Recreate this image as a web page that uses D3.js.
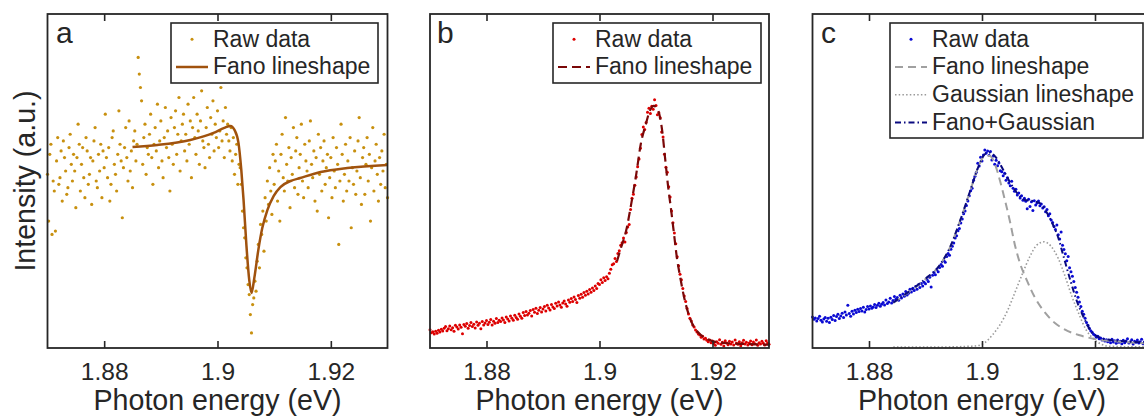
<!DOCTYPE html>
<html>
<head>
<meta charset="utf-8">
<script src="https://cdn.jsdelivr.net/npm/d3@7"></script>
<style>
body { margin: 0; background: #fff; }
text { font-family: "Liberation Sans", Arial, Helvetica, sans-serif; fill: #262626; }
</style>
</head>
<body>
<script>
// photon energy grids (eV)
var energyA = [
1.8700,1.8702,1.8704,1.8706,1.8708,1.8710,1.8712,1.8714,1.8716,1.8718,
1.8720,1.8722,1.8724,1.8726,1.8728,1.8730,1.8732,1.8734,1.8736,1.8738,
1.8740,1.8742,1.8744,1.8746,1.8748,1.8750,1.8752,1.8754,1.8756,1.8758,
1.8760,1.8762,1.8764,1.8766,1.8768,1.8770,1.8772,1.8774,1.8776,1.8778,
1.8780,1.8782,1.8784,1.8786,1.8788,1.8790,1.8792,1.8794,1.8796,1.8798,
1.8800,1.8802,1.8804,1.8806,1.8808,1.8810,1.8812,1.8814,1.8816,1.8818,
1.8820,1.8822,1.8824,1.8826,1.8828,1.8830,1.8832,1.8834,1.8836,1.8838,
1.8840,1.8842,1.8844,1.8846,1.8848,1.8850,1.8852,1.8854,1.8856,1.8858,
1.8860,1.8862,1.8864,1.8866,1.8868,1.8870,1.8872,1.8874,1.8876,1.8878,
1.8880,1.8882,1.8884,1.8886,1.8888,1.8890,1.8892,1.8894,1.8896,1.8898,
1.8900,1.8902,1.8904,1.8906,1.8908,1.8910,1.8912,1.8914,1.8916,1.8918,
1.8920,1.8922,1.8924,1.8926,1.8928,1.8930,1.8932,1.8934,1.8936,1.8938,
1.8940,1.8942,1.8944,1.8946,1.8948,1.8950,1.8952,1.8954,1.8956,1.8958,
1.8960,1.8962,1.8964,1.8966,1.8968,1.8970,1.8972,1.8974,1.8976,1.8978,
1.8980,1.8982,1.8984,1.8986,1.8988,1.8990,1.8992,1.8994,1.8996,1.8998,
1.9000,1.9002,1.9004,1.9006,1.9008,1.9010,1.9012,1.9014,1.9016,1.9018,
1.9020,1.9022,1.9024,1.9026,1.9028,1.9030,1.9032,1.9034,1.9036,1.9038,
1.9040,1.9042,1.9044,1.9046,1.9048,1.9050,1.9052,1.9054,1.9056,1.9058,
1.9060,1.9062,1.9064,1.9066,1.9068,1.9070,1.9072,1.9074,1.9076,1.9078,
1.9080,1.9082,1.9084,1.9086,1.9088,1.9090,1.9092,1.9094,1.9096,1.9098,
1.9100,1.9102,1.9104,1.9106,1.9108,1.9110,1.9112,1.9114,1.9116,1.9118,
1.9120,1.9122,1.9124,1.9126,1.9128,1.9130,1.9132,1.9134,1.9136,1.9138,
1.9140,1.9142,1.9144,1.9146,1.9148,1.9150,1.9152,1.9154,1.9156,1.9158,
1.9160,1.9162,1.9164,1.9166,1.9168,1.9170,1.9172,1.9174,1.9176,1.9178,
1.9180,1.9182,1.9184,1.9186,1.9188,1.9190,1.9192,1.9194,1.9196,1.9198,
1.9200,1.9202,1.9204,1.9206,1.9208,1.9210,1.9212,1.9214,1.9216,1.9218,
1.9220,1.9222,1.9224,1.9226,1.9228,1.9230,1.9232,1.9234,1.9236,1.9238,
1.9240,1.9242,1.9244,1.9246,1.9248,1.9250,1.9252,1.9254,1.9256,1.9258,
1.9260,1.9262,1.9264,1.9266,1.9268,1.9270,1.9272,1.9274,1.9276,1.9278,
1.9280,1.9282,1.9284,1.9286,1.9288,1.9290,1.9292,1.9294,1.9296,1.9298,
1.9300];

var energyBC = [
1.87000,1.87025,1.87050,1.87075,1.87100,1.87125,1.87150,1.87175,
1.87200,1.87225,1.87250,1.87275,1.87300,1.87325,1.87350,1.87375,
1.87400,1.87425,1.87450,1.87475,1.87500,1.87525,1.87550,1.87575,
1.87600,1.87625,1.87650,1.87675,1.87700,1.87725,1.87750,1.87775,
1.87800,1.87825,1.87850,1.87875,1.87900,1.87925,1.87950,1.87975,
1.88000,1.88025,1.88050,1.88075,1.88100,1.88125,1.88150,1.88175,
1.88200,1.88225,1.88250,1.88275,1.88300,1.88325,1.88350,1.88375,
1.88400,1.88425,1.88450,1.88475,1.88500,1.88525,1.88550,1.88575,
1.88600,1.88625,1.88650,1.88675,1.88700,1.88725,1.88750,1.88775,
1.88800,1.88825,1.88850,1.88875,1.88900,1.88925,1.88950,1.88975,
1.89000,1.89025,1.89050,1.89075,1.89100,1.89125,1.89150,1.89175,
1.89200,1.89225,1.89250,1.89275,1.89300,1.89325,1.89350,1.89375,
1.89400,1.89425,1.89450,1.89475,1.89500,1.89525,1.89550,1.89575,
1.89600,1.89625,1.89650,1.89675,1.89700,1.89725,1.89750,1.89775,
1.89800,1.89825,1.89850,1.89875,1.89900,1.89925,1.89950,1.89975,
1.90000,1.90025,1.90050,1.90075,1.90100,1.90125,1.90150,1.90175,
1.90200,1.90225,1.90250,1.90275,1.90300,1.90325,1.90350,1.90375,
1.90400,1.90425,1.90450,1.90475,1.90500,1.90525,1.90550,1.90575,
1.90600,1.90625,1.90650,1.90675,1.90700,1.90725,1.90750,1.90775,
1.90800,1.90825,1.90850,1.90875,1.90900,1.90925,1.90950,1.90975,
1.91000,1.91025,1.91050,1.91075,1.91100,1.91125,1.91150,1.91175,
1.91200,1.91225,1.91250,1.91275,1.91300,1.91325,1.91350,1.91375,
1.91400,1.91425,1.91450,1.91475,1.91500,1.91525,1.91550,1.91575,
1.91600,1.91625,1.91650,1.91675,1.91700,1.91725,1.91750,1.91775,
1.91800,1.91825,1.91850,1.91875,1.91900,1.91925,1.91950,1.91975,
1.92000,1.92025,1.92050,1.92075,1.92100,1.92125,1.92150,1.92175,
1.92200,1.92225,1.92250,1.92275,1.92300,1.92325,1.92350,1.92375,
1.92400,1.92425,1.92450,1.92475,1.92500,1.92525,1.92550,1.92575,
1.92600,1.92625,1.92650,1.92675,1.92700,1.92725,1.92750,1.92775,
1.92800,1.92825,1.92850,1.92875,1.92900,1.92925,1.92950,1.92975,
1.93000];

// raw intensities (a.u.)
var rawA = [
52,38,58,61,34,50,47,35,56,63,
49,51,59,44,62,57,53,46,48,60,
64,55,50,58,53,42,57,67,61,47,
55,60,51,45,63,59,49,52,57,43,
56,62,66,50,48,58,53,61,45,59,
54,70,57,51,60,44,49,63,65,55,
52,47,58,71,61,56,39,54,60,66,
57,50,68,53,59,48,62,65,56,61,
87,82,78,74,55,63,67,52,60,58,
64,70,57,49,61,66,59,73,54,62,
68,56,51,63,72,60,65,57,47,69,
61,55,66,71,58,64,75,53,62,67,
70,59,64,56,73,61,68,51,66,75,
63,58,70,65,55,68,77,62,60,54,
66,72,61,57,69,64,74,59,67,63,
71,60,65,78,62,68,57,72,64,67,
62,59,66,56,63,52,58,61,49,55,
54,49,41,36,33,27,24,19,16,10,
4.5,13,15,20,17,26,31,24,37,34,
41,29,45,38,50,43,54,47,40,58,
49,56,61,44,53,38,58,64,51,47,
69,55,50,60,42,57,52,66,48,59,
63,46,54,58,67,50,45,61,56,53,
48,62,68,55,51,59,44,57,41,64,
52,60,47,56,62,49,54,58,39,51,
57,45,63,53,48,60,55,31,50,67,
58,44,52,61,47,56,50,63,36,54,
49,59,46,53,62,69,51,43,57,60,
46,55,63,50,58,38,54,66,47,56,
61,52,44,57,49,59,53,64,48,55,45];

var rawB = [
5.5,4.6,4.9,4.2,5.0,4.4,5.3,4.8,5.6,5.1,
5.9,6.4,5.2,5.8,6.6,5.5,6.1,5.0,6.8,6.3,
5.7,6.9,6.2,4.3,7.0,6.5,7.3,5.9,6.7,7.6,
6.4,7.1,6.0,7.8,6.8,7.4,5.8,7.9,6.9,7.5,
8.2,7.0,7.7,8.5,6.9,8.0,7.4,8.8,7.6,8.3,
7.9,9.0,8.4,7.6,9.3,8.7,8.1,9.6,8.9,8.3,
9.8,9.1,8.6,10.2,9.5,8.9,10.6,9.7,10.9,9.9,
10.4,11.2,9.6,11.5,10.7,11.9,10.3,11.3,12.1,10.8,
11.7,12.4,11.1,12.8,12.0,11.4,13.0,12.3,11.8,13.4,
12.6,13.8,12.9,12.2,13.5,14.1,13.2,12.5,14.4,13.7,
14.8,13.9,15.3,14.5,13.6,15.7,14.9,16.1,15.2,16.6,
15.8,17.0,16.2,17.5,16.7,18.0,17.2,18.6,17.8,19.3,
19.0,20.4,19.6,21.0,20.2,21.3,20.7,22.4,23.6,24.9,
25.2,26.8,25.9,28.3,29.1,30.8,31.5,32.9,31.7,34.6,
36.2,37.0,41.5,44.8,46.0,48.7,51.2,54.3,56.6,59.8,
63.9,66.2,65.4,67.5,70.6,71.8,70.2,72.4,71.5,74.3,
72.6,69.8,70.4,68.9,64.7,63.2,58.0,54.1,52.6,48.3,
45.2,41.0,37.5,34.4,31.2,27.3,24.6,22.1,20.4,17.8,
15.6,13.9,11.8,10.2,8.9,8.1,6.9,6.3,5.4,4.8,
4.2,3.9,3.2,3.5,2.7,2.9,2.3,1.9,2.4,1.6,
2.1,1.3,0.8,1.9,1.4,2.5,1.1,1.7,0.6,2.2,
1.5,1.0,2.0,1.2,1.8,0.9,2.4,1.4,1.1,1.9,
0.7,1.6,2.3,1.2,1.7,0.9,1.5,2.1,1.0,1.8,
1.3,2.4,0.8,1.6,1.2,2.0,1.4,0.9,2.2,1.5,1.1];

var rawC = [
9.3,8.6,9.0,8.1,8.8,9.5,8.3,7.8,8.7,9.1,
8.0,8.9,7.6,9.2,8.5,9.7,8.2,9.4,10.1,8.8,
9.6,10.4,9.1,10.8,9.9,12.8,10.3,9.5,11.0,10.2,
11.3,10.6,11.6,10.9,11.8,11.1,12.2,10.8,11.5,12.4,
11.7,12.6,11.9,12.3,13.0,12.1,12.8,13.4,12.5,13.1,
13.6,12.9,14.4,13.3,13.8,14.9,13.5,14.2,15.4,14.6,
15.1,14.3,15.8,15.0,16.2,15.5,16.9,15.9,16.4,17.6,
16.8,17.9,17.2,18.4,17.6,18.9,18.1,19.3,18.6,19.7,
19.2,20.6,19.9,21.2,18.3,21.8,22.6,21.9,23.4,22.8,
24.1,25.0,24.5,26.2,25.7,27.4,28.3,27.8,29.6,30.5,
31.4,32.9,33.6,35.1,35.8,37.4,38.6,40.2,41.0,42.7,
44.0,45.6,47.1,47.8,50.2,51.4,52.6,55.3,54.5,57.1,
56.0,57.8,59.3,58.4,59.0,57.6,58.8,56.3,57.5,55.0,
56.2,54.6,55.4,53.1,52.8,51.6,52.3,50.2,51.0,49.4,
48.6,49.9,47.8,46.9,47.5,45.8,46.4,44.9,45.6,44.2,
44.8,43.9,41.7,44.5,42.4,43.8,41.2,44.1,42.8,43.4,
44.0,42.6,43.1,41.9,42.3,40.8,41.5,39.6,40.2,38.3,
37.6,36.4,35.5,36.8,33.9,32.6,34.7,30.8,29.5,28.2,
26.1,27.4,24.0,22.8,21.5,19.9,18.1,16.7,15.2,13.8,
12.4,11.0,10.1,8.9,7.6,6.8,5.9,5.2,4.7,4.1,
3.8,3.2,3.5,2.8,3.0,2.4,2.7,2.1,2.5,1.9,
2.3,1.6,2.6,1.8,2.2,1.4,2.4,1.7,2.0,1.3,
2.3,1.6,2.1,2.8,1.5,1.9,2.5,1.2,2.0,1.7,
2.4,1.5,1.9,2.6,1.3,1.8,2.2,1.6,2.0,1.4,1.8];

// fitted lineshapes
var fanoAx = [1.8850,1.8894,1.8952,1.8993,1.9012,1.9023,1.9030,1.9037,1.9042,1.9046,1.9051,1.9056,1.9060,1.9065,1.9072,1.9079,1.9088,1.9099,1.9111,1.9129,1.9146,1.9182,1.9229,1.9300];
var fanoAy = [60.2,60.8,62.3,64.4,65.9,66.5,65.3,61.4,53.3,44.3,30.8,20.4,16.5,21.0,29.3,35.9,41.3,45.5,48.2,50.0,50.9,52.7,53.9,54.8];

var fanoBx = [1.9031,1.9038,1.9047,1.9056,1.9065,1.9073,1.9082,1.9089,1.9096,1.9104,1.9111,1.9116,1.9121,1.9127,1.9132,1.9137,1.9142,1.9150,1.9157,1.9165,1.9174,1.9187,1.9201,1.9222,1.9258,1.9300];
var fanoBy = [26,30,35,43,52,61,67,71,72.5,71,65,57,49,41,34,27,22,15,10.5,7,4.8,3,2,1.5,1.2,1.0];

var fanoCx = [1.8843,1.8873,1.8899,1.8926,1.8943,1.8961,1.8979,1.8993,1.9005,1.9014,1.9023,1.9032,1.9041,1.9050,1.9058,1.9067,1.9080,1.9094,1.9112,1.9129,1.9147,1.9173,1.9200,1.9235,1.9300];
var fanoCy = [13.5,17,20.5,25,30,38,47,54,57.5,57.5,55,50,44,37.5,31,25.5,20,15,10.5,7.5,5.5,3.8,2.7,2.0,1.3];

var gaussCx = [1.8843,1.8926,1.8988,1.9005,1.9019,1.9032,1.9046,1.9058,1.9071,1.9085,1.9097,1.9110,1.9122,1.9135,1.9147,1.9159,1.9172,1.9184,1.9197,1.9209,1.9227,1.9300];
var gaussCy = [0.3,0.3,0.6,1.6,4,7,11.5,16.5,22,27.5,30.8,31.8,30.5,26.8,21.5,15.5,10,5.5,2.8,1.3,0.5,0.3];

var sumCx = [1.8843,1.8873,1.8899,1.8926,1.8943,1.8961,1.8979,1.8993,1.9005,1.9014,1.9025,1.9037,1.9050,1.9064,1.9076,1.9090,1.9103,1.9113,1.9124,1.9135,1.9145,1.9156,1.9168,1.9181,1.9193,1.9206,1.9227,1.9253,1.9300];
var sumCy = [13.6,17.2,20.6,25,30,38,47,54,58,58.5,57,53.5,49.5,46,44.3,44,43.3,41,37.5,33,27,20.5,14,8.8,5,3.3,2.4,2.0,1.6];

var tickValues = [1.88, 1.9, 1.92];
var xDomain = [1.87, 1.93];
var yDomain = [0, 100];
var xLabel = "Photon energy (eV)";
var yLabel = "Intensity (a.u.)";

var width = 1144, height = 416;
var plotTop = 14, plotBottom = 348;

var svg = d3.select("body").append("svg")
  .attr("width", width)
  .attr("height", height);

var line = function(x, y) {
  return d3.line().x(function(d) { return x(d[0]) }).y(function(d) { return y(d[1]) }).curve(d3.curveMonotoneX);
}

var panels = [
  {letter: "a", left: 47.5, right: 387.5, letterX: 56,
   energy: energyA, raw: rawA, dot: "#c8900f", r: 1.6,
   fits: [{x: fanoAx, y: fanoAy, color: "#a0520e", width: 2.5, dash: null}],
   legend: {x: 171, y: 23, w: 207, h: 60,
     items: [{label: "Raw data", type: "dot", color: "#c8900f"},
             {label: "Fano lineshape", type: "line", color: "#a0520e", width: 2.5, dash: null}]}},
  {letter: "b", left: 430, right: 769, letterX: 437,
   energy: energyBC, raw: rawB, dot: "#dd0000", r: 1.5,
   fits: [{x: fanoBx, y: fanoBy, color: "#7a0808", width: 2.2, dash: "9,5"}],
   legend: {x: 553, y: 23, w: 208, h: 60,
     items: [{label: "Raw data", type: "dot", color: "#dd0000"},
             {label: "Fano lineshape", type: "line", color: "#7a0808", width: 2.2, dash: "9,5"}]}},
  {letter: "c", left: 812.5, right: 1151.5, letterX: 821,
   energy: energyBC, raw: rawC, dot: "#0a0ad2", r: 1.5,
   fits: [{x: fanoCx, y: fanoCy, color: "#a0a0a0", width: 2, dash: "8,5"},
          {x: gaussCx, y: gaussCy, color: "#9a9a9a", width: 1.6, dash: "1.5,2.2"},
          {x: sumCx, y: sumCy, color: "#0a0a80", width: 2, dash: "6,3,1.5,3"}],
   legend: {x: 890, y: 23, w: 253, h: 115,
     items: [{label: "Raw data", type: "dot", color: "#0a0ad2"},
             {label: "Fano lineshape", type: "line", color: "#a0a0a0", width: 2, dash: "8,5"},
             {label: "Gaussian lineshape", type: "line", color: "#9a9a9a", width: 1.6, dash: "1.5,2.2"},
             {label: "Fano+Gaussian", type: "line", color: "#0a0a80", width: 2, dash: "6,3,1.5,3"}]}}
];

panels.forEach(function(p) {
  var x = d3.scaleLinear().domain(xDomain).range([p.left, p.right]);
  var y = d3.scaleLinear().domain(yDomain).range([plotBottom, plotTop]);
  var g = svg.append("g");

  g.append("g").selectAll("circle")
    .data(d3.zip(p.energy, p.raw))
    .join("circle")
    .attr("cx", function(d) { return x(d[0]) })
    .attr("cy", function(d) { return y(d[1]) })
    .attr("r", p.r)
    .attr("fill", p.dot);

  p.fits.forEach(function(f) {
    g.append("path")
      .datum(d3.zip(f.x, f.y))
      .attr("d", line(x, y))
      .attr("fill", "none")
      .attr("stroke", f.color)
      .attr("stroke-width", f.width)
      .attr("stroke-dasharray", f.dash);
  });

  var bottom = g.append("g")
    .attr("transform", "translate(0," + plotBottom + ")")
    .call(d3.axisBottom(x).tickValues(tickValues).tickSize(-7).tickFormat(function(d) { return String(d) }));
  bottom.selectAll("text").attr("y", 32).attr("dy", null).style("font-size", "24.5px");

  var topAxis = g.append("g")
    .attr("transform", "translate(0," + plotTop + ")")
    .call(d3.axisTop(x).tickValues(tickValues).tickSize(-7).tickFormat(""));

  g.selectAll(".domain").remove();
  g.selectAll(".tick line").attr("stroke", "#262626").attr("stroke-width", 1.6);
  g.selectAll(".tick text").attr("fill", "#262626");
  [bottom, topAxis].forEach(function(a) { a.attr("font-family", null).attr("font-size", null) });

  g.append("rect")
    .attr("x", p.left).attr("y", plotTop)
    .attr("width", p.right - p.left).attr("height", plotBottom - plotTop)
    .attr("fill", "none").attr("stroke", "#262626").attr("stroke-width", 1.8);

  g.append("text")
    .attr("x", p.letterX).attr("y", 43)
    .style("font-size", "30px")
    .text(p.letter);

  g.append("text")
    .attr("x", (p.left + p.right) / 2).attr("y", 409.5)
    .attr("text-anchor", "middle")
    .style("font-size", "28.6px")
    .text(xLabel);

  // legend
  var L = p.legend;
  var lg = g.append("g");
  lg.append("rect")
    .attr("x", L.x).attr("y", L.y).attr("width", L.w).attr("height", L.h)
    .attr("fill", "#fff").attr("stroke", "#262626").attr("stroke-width", 1.6);
  L.items.forEach(function(it, i) {
    var base = L.y + 23.7 + i * 27.7;
    var cy = base - 7.4;
    if (it.type == "dot") {
      lg.append("circle").attr("cx", L.x + 21).attr("cy", cy).attr("r", 1.5).attr("fill", it.color);
    } else {
      lg.append("line")
        .attr("x1", L.x + 5).attr("x2", L.x + 37).attr("y1", cy).attr("y2", cy)
        .attr("stroke", it.color).attr("stroke-width", it.width).attr("stroke-dasharray", it.dash);
    }
    lg.append("text")
      .attr("x", L.x + 42).attr("y", base)
      .style("font-size", "23px")
      .text(it.label);
  });
});

svg.append("text")
  .attr("transform", "translate(35," + ((plotTop + plotBottom) / 2) + ") rotate(-90)")
  .attr("text-anchor", "middle")
  .style("font-size", "28.6px")
  .text(yLabel);
</script>
</body>
</html>
